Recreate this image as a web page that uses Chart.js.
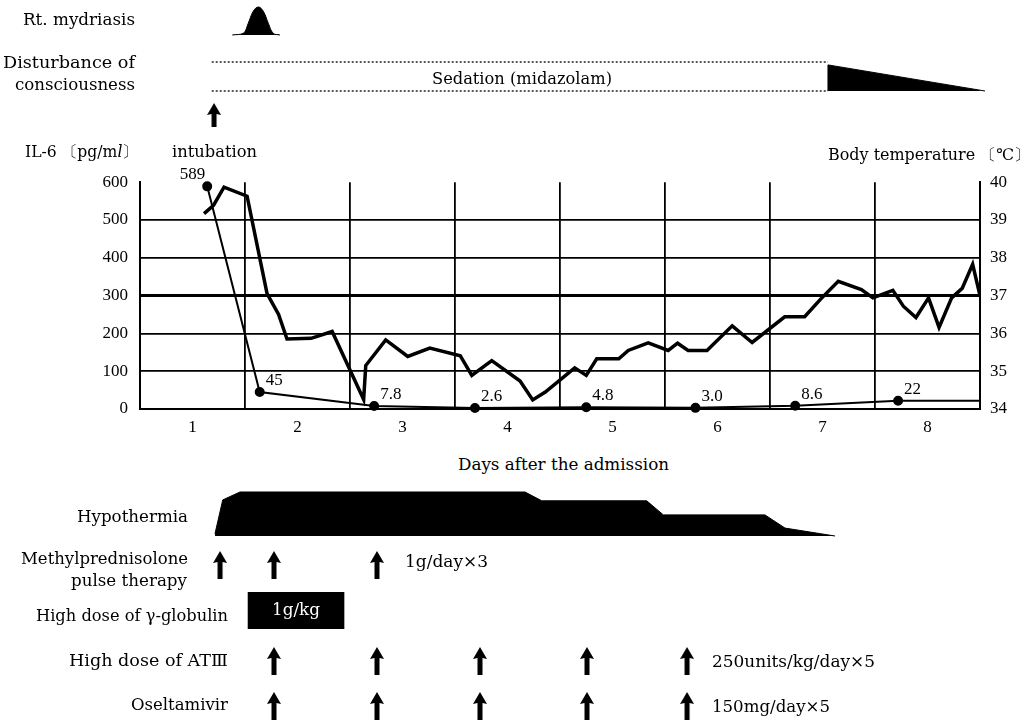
<!DOCTYPE html>
<html>
<head>
<meta charset="utf-8">
<script src="https://cdn.jsdelivr.net/npm/chart.js@4.4.1/dist/chart.umd.min.js"></script>
<style>
  html, body { margin: 0; padding: 0; background: #fff; }
  #wrap { position: relative; width: 1033px; height: 721px; overflow: hidden; background: #fff; }
  canvas { position: absolute; left: 0; }
  .t { position: absolute; font-family: "DejaVu Serif", "Liberation Serif", serif; font-size: 16px; line-height: 1; color: #000; white-space: nowrap; transform-origin: 0 50%; transform: translateY(-50%); }
</style>
</head>
<body>
<div id="wrap"></div>
<script>
// ---------------- DATA ----------------
const dayLabels = ['1', '2', '3', '4', '5', '6', '7', '8'];
const il6TickValues = [0, 100, 200, 300, 400, 500, 600];
const tempTickValues = [34, 35, 36, 37, 38, 39, 40];

// Body temperature (℃) vs. day
const tempDays = [1.11, 1.20, 1.30, 1.52, 1.71, 1.82, 1.90, 2.13, 2.33, 2.63, 2.65, 2.84, 3.05, 3.26, 3.55, 3.66, 3.85, 4.12, 4.24, 4.36, 4.64, 4.75, 4.85, 5.06, 5.15, 5.34, 5.53, 5.62, 5.72, 5.90, 6.14, 6.33, 6.64, 6.83, 6.98, 7.15, 7.37, 7.48, 7.67, 7.77, 7.89, 8.01, 8.11, 8.23, 8.33, 8.43, 8.50];
const tempValues = [39.17, 39.39, 39.87, 39.63, 37.05, 36.5, 35.85, 35.87, 36.05, 34.25, 35.15, 35.83, 35.39, 35.61, 35.41, 34.89, 35.28, 34.74, 34.24, 34.45, 35.09, 34.89, 35.33, 35.33, 35.55, 35.75, 35.55, 35.74, 35.55, 35.55, 36.2, 35.76, 36.44, 36.44, 36.9, 37.38, 37.16, 36.94, 37.14, 36.72, 36.42, 36.94, 36.16, 36.94, 37.19, 37.83, 37.0];

// IL-6 (pg/ml)
const il6Days = [1.14, 1.64, 2.73, 3.69, 4.75, 5.79, 6.74, 7.72, 8.5];
const il6Values = [589, 45, 7.8, 2.6, 4.8, 3.0, 8.6, 22, 22];
const il6Labels = ['589', '45', '7.8', '2.6', '4.8', '3.0', '8.6', '22', ''];

// Rt. mydriasis (relative intensity)
const mydDays = [1.379, 1.484, 1.531, 1.579, 1.627, 1.674, 1.722, 1.769, 1.833];
const mydLevel = [0, 0.06, 0.42, 0.85, 1.0, 0.85, 0.42, 0.06, 0];

// Disturbance of consciousness / sedation
const sedationDays = [1.183, 7.052];
const wedgeDays = [7.052, 7.052, 8.548];
const wedgeLevel = [0, 0.9, 0];

// Hypothermia (relative depth)
const hypoDays = [1.214, 1.288, 1.452, 4.167, 4.326, 5.326, 5.484, 6.452, 6.643, 7.119];
const hypoLevel = [0.05, 0.82, 1.0, 1.0, 0.8, 0.8, 0.48, 0.48, 0.18, 0];

// Treatments (days of administration)
const intubationDays = [1.205];
const mpDays = [1.262, 1.776, 2.757];
const globulinRange = [1.529, 2.443];
const at3Days = [1.776, 2.757, 3.738, 4.757, 5.71];
const oseltamivirDays = [1.776, 2.757, 3.738, 4.757, 5.71];

// ---------------- HELPERS ----------------
const FONT = '"Liberation Serif", "Times New Roman", serif';
Chart.defaults.font.family = FONT;
Chart.defaults.color = '#000';
const wrap = document.getElementById('wrap');
const PAD_L = 140, PAD_R = 53;

function mkCanvas(top, height) {
  const c = document.createElement('canvas');
  c.width = 1033; c.height = height;
  c.style.top = top + 'px';
  wrap.appendChild(c);
  return c;
}
function pts(xs, ys) { return xs.map((x, i) => ({ x: x, y: ys[i] })); }
function makeArrow(h) {
  const c = document.createElement('canvas');
  c.width = 14; c.height = h;
  const g = c.getContext('2d');
  g.fillStyle = '#000';
  g.beginPath();
  g.moveTo(7, 0); g.lineTo(14, 12); g.lineTo(9.5, 11); g.lineTo(9.5, h);
  g.lineTo(4.5, h); g.lineTo(4.5, 11); g.lineTo(0, 12); g.closePath();
  g.fill();
  return c;
}
function stripOpts(ymin, ymax, padTop, padBottom) {
  return {
    responsive: false, animation: false, events: [],
    layout: { padding: { left: PAD_L, right: PAD_R, top: padTop, bottom: padBottom } },
    plugins: { legend: { display: false }, tooltip: { enabled: false } },
    scales: {
      x: { type: 'linear', min: 0.5, max: 8.5, display: false },
      y: { type: 'linear', min: ymin, max: ymax, display: false }
    }
  };
}
// text placed between x0 and x1 (fitted), vertically centred on cy
function text(str, x0, x1, cy, extraStyle) {
  const d = document.createElement('div');
  d.className = 't';
  d.innerHTML = str;
  d.style.left = x0 + 'px';
  d.style.top = cy + 'px';
  if (extraStyle) d.style.cssText += extraStyle;
  wrap.appendChild(d);
  const w = d.getBoundingClientRect().width;
  const s = (x1 - x0) / w;
  d.style.transform = 'translateY(-50%) scaleX(' + s.toFixed(4) + ')';
}
function arrowRow(top, height, days, arrowH) {
  const img = makeArrow(arrowH);
  new Chart(mkCanvas(top, height), {
    type: 'scatter',
    data: { datasets: [{ data: days.map(d => ({ x: d, y: 0 })), pointStyle: img, pointRadius: 7, clip: false }] },
    options: stripOpts(-1, 1, 0, 0)
  });
}

// ---------------- TOP STRIPS ----------------
new Chart(mkCanvas(0, 40), {
  type: 'line',
  data: { datasets: [{ data: pts(mydDays, mydLevel), borderColor: '#000', backgroundColor: '#000', borderWidth: 1, pointRadius: 0, fill: 'origin', tension: 0.4, clip: false }] },
  options: stripOpts(0, 1, 7, 5)
});

new Chart(mkCanvas(55, 45), {
  type: 'line',
  data: { datasets: [
    { data: sedationDays.map(d => ({ x: d, y: 1 })), borderColor: '#000', borderWidth: 1.3, borderDash: [2, 2], pointRadius: 0, fill: false, clip: false },
    { data: sedationDays.map(d => ({ x: d, y: 0 })), borderColor: '#000', borderWidth: 1.3, borderDash: [2, 2], pointRadius: 0, fill: false, clip: false },
    { data: pts(wedgeDays, wedgeLevel), borderColor: '#000', backgroundColor: '#000', borderWidth: 1, pointRadius: 0, fill: 'origin', clip: false }
  ] },
  options: stripOpts(0, 1, 7, 9)
});

arrowRow(100, 30, intubationDays, 24);

// ---------------- MAIN CHART ----------------
const labelPlugin = {
  id: 'il6labels',
  afterDatasetsDraw(chart) {
    const meta = chart.getDatasetMeta(1);
    const ctx = chart.ctx;
    ctx.save();
    ctx.font = '17px ' + FONT;
    ctx.fillStyle = '#000';
    ctx.textBaseline = 'bottom';
    meta.data.forEach((pt, i) => {
      const s = il6Labels[i];
      if (!s) return;
      if (i === 0) { ctx.textAlign = 'right'; ctx.fillText(s, pt.x - 2, pt.y - 3); }
      else { ctx.textAlign = 'left'; ctx.fillText(s, pt.x + 6, pt.y - 3); }
    });
    ctx.restore();
  }
};

const xTickValues = [];
for (let i = 0; i <= dayLabels.length * 2; i++) xTickValues.push(0.5 + i * 0.5);

new Chart(mkCanvas(160, 290), {
  type: 'line',
  data: { datasets: [
    { label: 'Body temperature', data: pts(tempDays, tempValues), yAxisID: 'yT', borderColor: '#000', borderWidth: 3.5, pointRadius: 0, tension: 0, fill: false, borderJoinStyle: 'miter' },
    { label: 'IL-6', data: pts(il6Days, il6Values), yAxisID: 'yI', borderColor: '#000', backgroundColor: '#000', borderWidth: 2, pointRadius: il6Labels.map(s => s ? 4 : 0), pointBackgroundColor: '#000', tension: 0, fill: false, clip: false }
  ] },
  options: {
    responsive: false, animation: false, events: [],
    layout: { padding: { left: 100, right: 13, top: 20, bottom: 11 } },
    plugins: { legend: { display: false }, tooltip: { enabled: false } },
    scales: {
      x: {
        type: 'linear', min: 0.5, max: 8.5,
        afterBuildTicks: ax => { ax.ticks = xTickValues.map(v => ({ value: v })); },
        afterFit: s => { s.height = 30; },
        ticks: { autoSkip: false, maxRotation: 0, padding: 8, font: { size: 17 }, color: '#000',
          callback: v => Number.isInteger(v) ? dayLabels[v - 1] : '' },
        grid: { drawTicks: false, lineWidth: 1.8,
          color: c => (c.tick && Number.isInteger(c.tick.value)) ? 'rgba(0,0,0,0)' : '#000' },
        border: { display: true, color: '#000', width: 2 }
      },
      yI: {
        type: 'linear', position: 'left', min: 0, max: 600,
        afterBuildTicks: ax => { ax.ticks = il6TickValues.map(v => ({ value: v })); },
        afterFit: s => { s.width = 40; },
        ticks: { padding: 12, font: { size: 17 }, color: '#000' },
        grid: { drawTicks: false,
          lineWidth: c => (c.tick && c.tick.value === 300) ? 3 : 1.8,
          color: c => (c.tick && c.tick.value === 600) ? 'rgba(0,0,0,0)' : '#000' },
        border: { display: true, color: '#000', width: 2 }
      },
      yT: {
        type: 'linear', position: 'right', min: 34, max: 40,
        afterBuildTicks: ax => { ax.ticks = tempTickValues.map(v => ({ value: v })); },
        afterFit: s => { s.width = 40; },
        ticks: { padding: 10, font: { size: 17 }, color: '#000' },
        grid: { drawTicks: false, drawOnChartArea: false },
        border: { display: true, color: '#000', width: 2 }
      }
    }
  },
  plugins: [labelPlugin]
});

// ---------------- BOTTOM STRIPS ----------------
new Chart(mkCanvas(490, 48), {
  type: 'line',
  data: { datasets: [{ data: pts(hypoDays, hypoLevel), borderColor: '#000', backgroundColor: '#000', borderWidth: 1, pointRadius: 0, fill: 'origin', tension: 0, clip: false }] },
  options: stripOpts(0, 1, 2, 2)
});

arrowRow(549, 32, mpDays, 28);

new Chart(mkCanvas(592, 37), {
  type: 'bar',
  data: { labels: ['γ-globulin'], datasets: [{ data: [globulinRange], backgroundColor: '#000', barPercentage: 1, categoryPercentage: 1 }] },
  options: {
    indexAxis: 'y', responsive: false, animation: false, events: [],
    layout: { padding: { left: PAD_L, right: PAD_R, top: 0, bottom: 0 } },
    plugins: { legend: { display: false }, tooltip: { enabled: false } },
    scales: {
      x: { type: 'linear', min: 0.5, max: 8.5, display: false },
      y: { type: 'category', display: false }
    }
  }
});

arrowRow(645, 32, at3Days, 28);
arrowRow(690, 32, oseltamivirDays, 28);

// ---------------- TEXT ----------------
text('Rt. mydriasis', 23, 135, 20);
text('Disturbance of', 3, 135, 63);
text('consciousness', 15, 135, 85);
text('Sedation (midazolam)', 432, 612, 79);
text('IL-6 〔pg/m<i>l</i>〕', 25, 138, 152);
text('intubation', 172, 257, 152);
text('Body temperature 〔℃〕', 828, 1030, 155);
text('Days after the admission', 458, 669, 465);
text('Hypothermia', 77, 188, 517);
text('Methylprednisolone', 21, 188, 559);
text('pulse therapy', 71, 187, 581);
text('1g/day×3', 405, 488, 562);
text('High dose of γ-globulin', 36, 228, 616);
text('1g/kg', 272, 320, 610, 'color:#fff;');
text('High dose of ATⅢ', 69, 228, 661);
text('250units/kg/day×5', 712, 875, 662);
text('Oseltamivir', 131, 228, 705);
text('150mg/day×5', 712, 830, 707);
</script>
</body>
</html>
